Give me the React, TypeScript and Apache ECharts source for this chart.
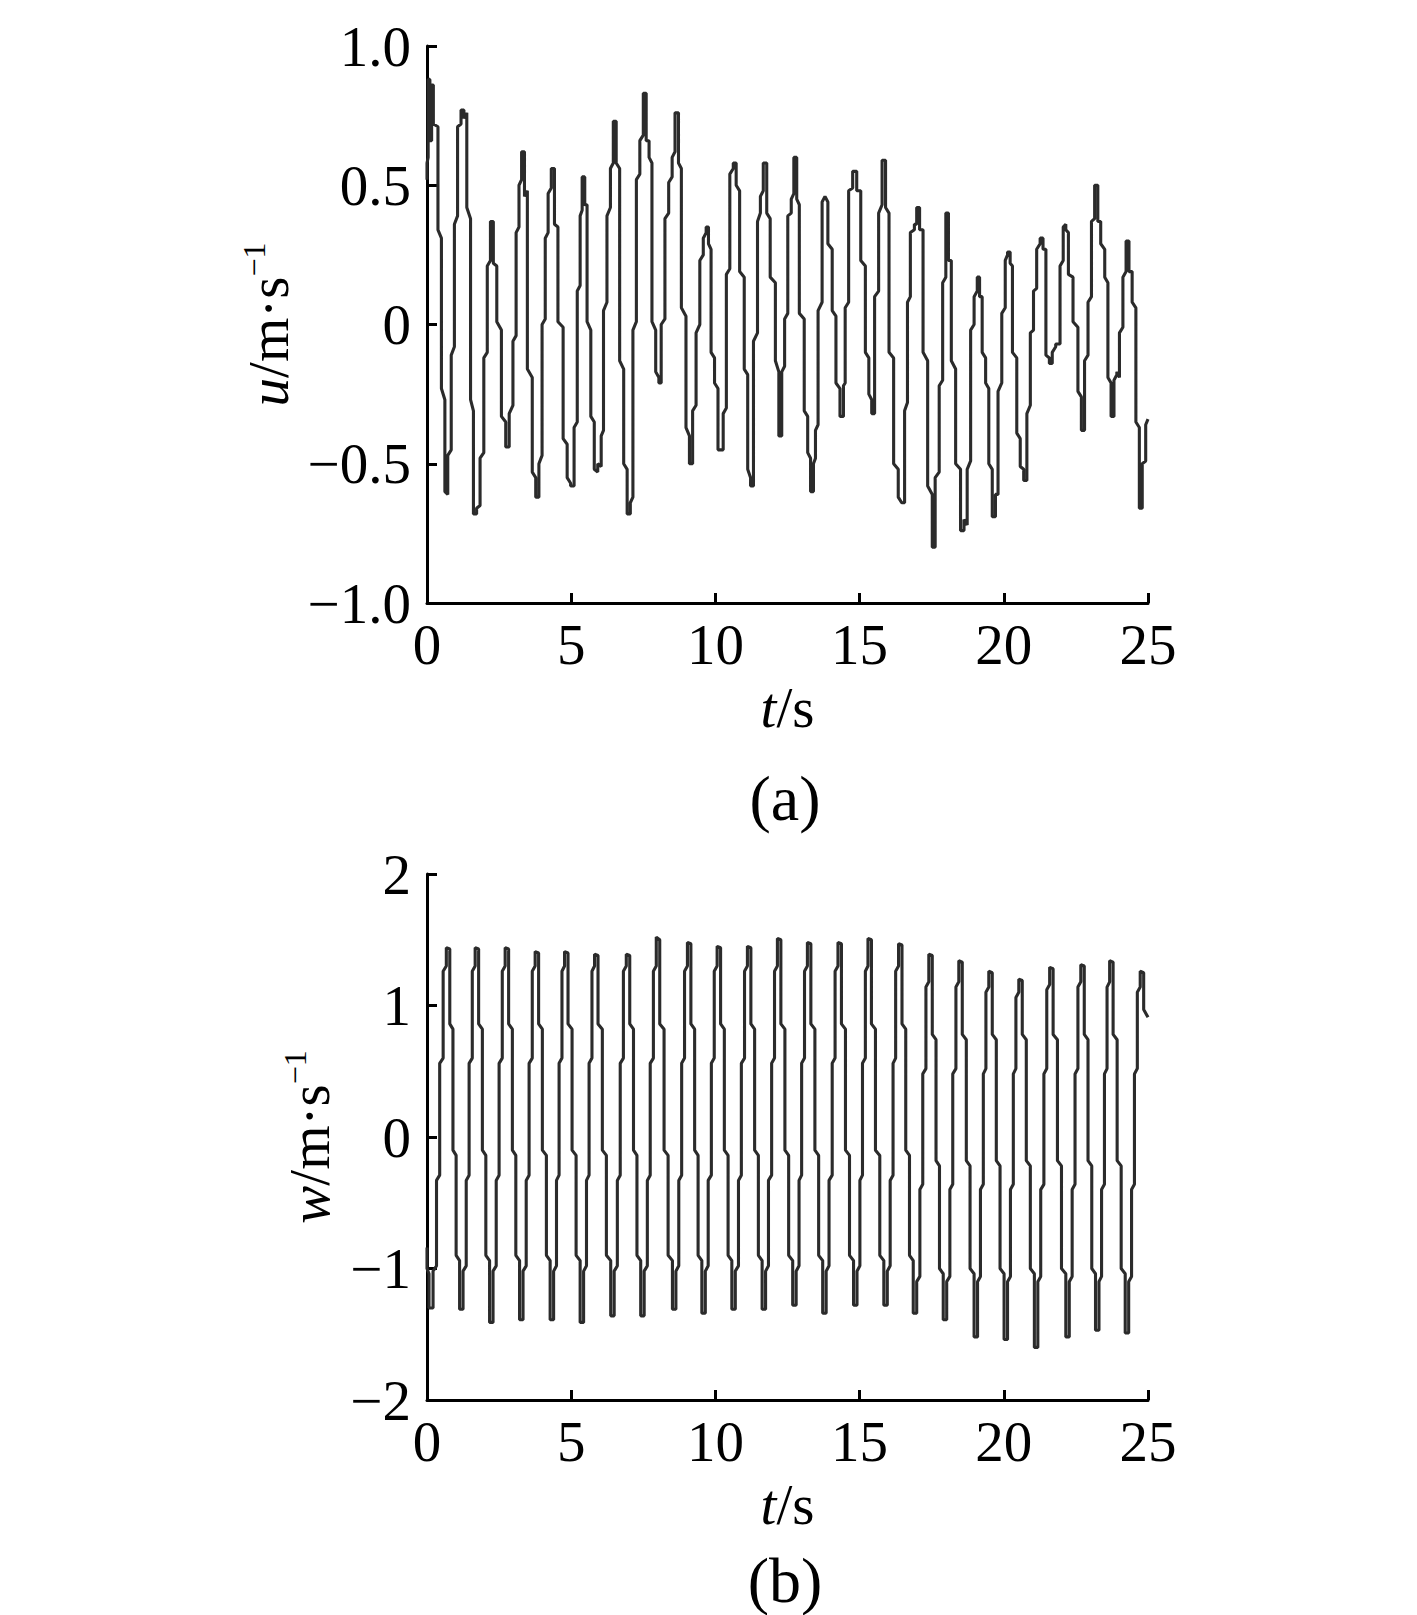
import React, { useEffect, useRef } from "react";
import * as echarts from "echarts";

// ---------- data ----------
const timeMin = 0;
const timeMax = 25;
const timeStep = 5;

const uTickValues = [-1, -0.5, 0, 0.5, 1];
const uTickLabels = ["\u22121.0", "\u22120.5", "0", "0.5", "1.0"];
const wTickValues = [-2, -1, 0, 1, 2];
const wTickLabels = ["\u22122", "\u22121", "0", "1", "2"];

// u(t): the trace is drawn as short vertical runs [t, from, to] joined by small jogs
const uSteps: number[][] = [
  [0.0, 0.52, 0.58], [0.04, 0.6, 0.88], [0.1, 0.88, 0.66], [0.16, 0.66, 0.86], [0.22, 0.86, 0.72],
  [0.38, 0.71, 0.34], [0.5, 0.31, -0.23], [0.62, -0.27, -0.6], [0.72, -0.61, -0.47],
  [0.84, -0.45, -0.11], [0.95, -0.08, 0.36], [1.06, 0.39, 0.71], [1.18, 0.72, 0.77], [1.28, 0.77, 0.74],
  [1.38, 0.76, 0.42], [1.51, 0.38, -0.27], [1.61, -0.31, -0.68], [1.72, -0.68, -0.66], [1.84, -0.65, -0.48],
  [1.97, -0.46, -0.12], [2.09, -0.1, 0.21], [2.2, 0.23, 0.37], [2.3, 0.37, 0.22], [2.42, 0.21, 0.01],
  [2.58, -0.02, -0.33], [2.73, -0.35, -0.44], [2.85, -0.44, -0.32],
  [2.98, -0.29, -0.06], [3.09, -0.04, 0.33], [3.19, 0.35, 0.5], [3.28, 0.52, 0.62], [3.38, 0.62, 0.46],
  [3.48, 0.48, -0.16], [3.65, -0.19, -0.53], [3.77, -0.55, -0.62], [3.88, -0.62, -0.5],
  [3.99, -0.47, 0.0], [4.1, 0.02, 0.31], [4.2, 0.33, 0.47], [4.31, 0.49, 0.56], [4.42, 0.56, 0.36],
  [4.54, 0.35, 0.01], [4.72, -0.01, -0.41], [4.86, -0.43, -0.55], [4.98, -0.57, -0.58], [5.1, -0.58, -0.37],
  [5.21, -0.35, 0.12], [5.31, 0.14, 0.39], [5.38, 0.41, 0.53], [5.47, 0.53, 0.43],
  [5.55, 0.43, 0.01], [5.68, -0.02, -0.33], [5.8, -0.35, -0.52], [5.92, -0.53, -0.5], [6.04, -0.51, -0.4],
  [6.12, -0.38, 0.05], [6.24, 0.08, 0.39], [6.36, 0.42, 0.56], [6.46, 0.58, 0.73], [6.56, 0.73, 0.58],
  [6.68, 0.56, -0.13], [6.82, -0.16, -0.5], [6.94, -0.52, -0.68], [7.05, -0.68, -0.64],
  [7.14, -0.62, -0.02], [7.26, 0.01, 0.52], [7.38, 0.54, 0.66], [7.5, 0.68, 0.83], [7.6, 0.83, 0.66],
  [7.7, 0.66, 0.6], [7.8, 0.58, 0.01], [7.93, -0.02, -0.17], [8.04, -0.19, -0.21],
  [8.12, -0.21, 0.0], [8.25, 0.02, 0.38], [8.38, 0.4, 0.51], [8.5, 0.53, 0.6], [8.6, 0.62, 0.76],
  [8.72, 0.76, 0.58], [8.82, 0.56, 0.06], [8.98, 0.03, -0.37], [9.1, -0.4, -0.5], [9.21, -0.5, -0.31],
  [9.33, -0.29, -0.03], [9.46, 0.0, 0.23], [9.58, 0.25, 0.31], [9.68, 0.33, 0.35], [9.76, 0.35, 0.29],
  [9.85, 0.27, -0.1], [9.97, -0.12, -0.21], [10.09, -0.23, -0.45], [10.2, -0.45, -0.45],
  [10.27, -0.45, -0.32], [10.38, -0.3, 0.18], [10.5, 0.2, 0.54], [10.62, 0.56, 0.58], [10.72, 0.58, 0.5],
  [10.84, 0.48, 0.19], [11.0, 0.17, -0.16], [11.12, -0.18, -0.52], [11.22, -0.55, -0.58],
  [11.32, -0.58, -0.06], [11.46, -0.03, 0.37], [11.56, 0.4, 0.46], [11.66, 0.48, 0.58], [11.78, 0.58, 0.4],
  [11.9, 0.38, 0.17], [12.08, 0.15, -0.13], [12.2, -0.17, -0.4], [12.3, -0.4, -0.17],
  [12.4, -0.15, 0.02], [12.51, 0.04, 0.39], [12.63, 0.4, 0.45], [12.72, 0.47, 0.6], [12.82, 0.6, 0.45],
  [12.91, 0.43, 0.04], [13.08, 0.02, -0.31], [13.2, -0.33, -0.46], [13.3, -0.48, -0.6], [13.4, -0.6, -0.5],
  [13.47, -0.48, -0.38], [13.56, -0.36, 0.05], [13.7, 0.08, 0.44], [13.8, 0.46, 0.46], [13.9, 0.44, 0.29],
  [14.05, 0.27, 0.05], [14.18, 0.03, -0.21], [14.32, -0.23, -0.33], [14.44, -0.33, -0.22],
  [14.5, -0.21, 0.06], [14.62, 0.08, 0.48], [14.76, 0.49, 0.55], [14.9, 0.55, 0.48], [15.04, 0.48, 0.23],
  [15.2, 0.21, -0.1], [15.32, -0.12, -0.25], [15.42, -0.27, -0.32],
  [15.52, -0.32, 0.1], [15.66, 0.12, 0.4], [15.78, 0.43, 0.59], [15.9, 0.59, 0.42], [16.02, 0.4, -0.1],
  [16.18, -0.12, -0.5], [16.34, -0.52, -0.62], [16.46, -0.64, -0.64],
  [16.56, -0.64, -0.31], [16.66, -0.28, 0.08], [16.76, 0.1, 0.33], [16.9, 0.34, 0.36], [16.98, 0.36, 0.42],
  [17.08, 0.42, 0.34], [17.2, 0.34, -0.1], [17.36, -0.13, -0.58], [17.52, -0.61, -0.8], [17.62, -0.8, -0.55],
  [17.76, -0.53, -0.22], [17.88, -0.2, 0.15], [17.99, 0.17, 0.4], [18.08, 0.4, 0.23], [18.18, 0.23, -0.13],
  [18.33, -0.16, -0.5], [18.5, -0.52, -0.74], [18.62, -0.74, -0.7],
  [18.73, -0.72, -0.52], [18.85, -0.49, -0.02], [18.97, 0.0, 0.1], [19.08, 0.12, 0.17], [19.16, 0.17, 0.1],
  [19.25, 0.1, -0.1], [19.37, -0.12, -0.21], [19.48, -0.23, -0.5], [19.6, -0.52, -0.69], [19.71, -0.69, -0.61],
  [19.8, -0.61, -0.24], [19.93, -0.21, 0.04], [20.05, 0.06, 0.23], [20.13, 0.25, 0.26], [20.22, 0.26, 0.22],
  [20.3, 0.21, -0.1], [20.45, -0.12, -0.39], [20.57, -0.41, -0.51], [20.69, -0.52, -0.56],
  [20.8, -0.56, -0.32], [20.92, -0.29, -0.03], [21.03, -0.02, 0.12], [21.14, 0.13, 0.27], [21.26, 0.29, 0.31],
  [21.36, 0.31, 0.27], [21.46, 0.27, -0.11], [21.58, -0.12, -0.14],
  [21.68, -0.14, -0.1], [21.8, -0.08, -0.07], [21.95, -0.07, 0.21], [22.06, 0.23, 0.35], [22.15, 0.36, 0.34],
  [22.24, 0.33, 0.18], [22.4, 0.17, 0.01], [22.57, -0.01, -0.24], [22.69, -0.26, -0.38],
  [22.8, -0.38, -0.13], [22.92, -0.11, 0.08], [23.04, 0.1, 0.37], [23.15, 0.38, 0.5], [23.26, 0.5, 0.37],
  [23.36, 0.37, 0.29], [23.5, 0.27, 0.17], [23.61, 0.15, -0.19], [23.72, -0.21, -0.33], [23.82, -0.33, -0.2],
  [23.92, -0.18, -0.17],
  [24.01, -0.19, -0.03], [24.13, -0.01, 0.17], [24.24, 0.19, 0.3], [24.34, 0.3, 0.19], [24.45, 0.19, 0.08],
  [24.58, 0.06, -0.35], [24.7, -0.37, -0.66], [24.8, -0.66, -0.5], [24.92, -0.49, -0.36], [25.0, -0.34, -0.34],
];

// w(t): same drawing convention
const wSteps: number[][] = [
  [0.0, -0.84, -1.0], [0.07, -1.04, -1.3],
  [0.21, -1.3, -1.02], [0.33, -0.98, -0.33], [0.44, -0.29, 0.56], [0.56, 0.6, 1.26], [0.67, 1.3, 1.44],
  [0.79, 1.43, 0.86], [0.9, 0.82, -0.1], [1.01, -0.14, -0.9], [1.13, -0.94, -1.31],
  [1.25, -1.31, -1.02], [1.36, -0.98, -0.33], [1.46, -0.29, 0.56], [1.57, 0.6, 1.26], [1.67, 1.3, 1.44],
  [1.79, 1.43, 0.86], [1.92, 0.82, -0.1], [2.04, -0.14, -0.9], [2.17, -0.94, -1.41],
  [2.29, -1.41, -1.02], [2.4, -0.98, -0.33], [2.5, -0.29, 0.56], [2.61, 0.6, 1.26], [2.71, 1.3, 1.44],
  [2.83, 1.43, 0.86], [2.96, 0.82, -0.1], [3.08, -0.14, -0.9], [3.21, -0.94, -1.39],
  [3.33, -1.39, -1.02], [3.44, -0.98, -0.33], [3.54, -0.29, 0.56], [3.65, 0.6, 1.26], [3.75, 1.3, 1.41],
  [3.87, 1.4, 0.86], [4.0, 0.82, -0.1], [4.14, -0.14, -0.9], [4.27, -0.94, -1.39],
  [4.39, -1.39, -1.02], [4.49, -0.98, -0.33], [4.58, -0.29, 0.56], [4.68, 0.6, 1.26], [4.77, 1.3, 1.41],
  [4.89, 1.4, 0.86], [5.03, 0.82, -0.1], [5.17, -0.14, -0.9], [5.31, -0.94, -1.41],
  [5.43, -1.41, -1.02], [5.53, -0.98, -0.33], [5.62, -0.29, 0.56], [5.72, 0.6, 1.26], [5.81, 1.3, 1.39],
  [5.93, 1.38, 0.86], [6.08, 0.82, -0.1], [6.22, -0.14, -0.9], [6.37, -0.94, -1.36],
  [6.49, -1.36, -1.02], [6.6, -0.98, -0.33], [6.7, -0.29, 0.56], [6.81, 0.6, 1.26], [6.91, 1.3, 1.39],
  [7.03, 1.38, 0.86], [7.16, 0.82, -0.1], [7.28, -0.14, -0.9], [7.41, -0.94, -1.36],
  [7.53, -1.36, -1.02], [7.64, -0.98, -0.33], [7.74, -0.29, 0.56], [7.85, 0.6, 1.26], [7.95, 1.3, 1.52],
  [8.07, 1.5, 0.86], [8.22, 0.82, -0.1], [8.36, -0.14, -0.9], [8.51, -0.94, -1.31],
  [8.63, -1.31, -1.02], [8.73, -0.98, -0.33], [8.83, -0.29, 0.56], [8.93, 0.6, 1.26], [9.03, 1.3, 1.48],
  [9.15, 1.47, 0.86], [9.28, 0.82, -0.1], [9.4, -0.14, -0.9], [9.53, -0.94, -1.34],
  [9.65, -1.34, -1.02], [9.75, -0.98, -0.33], [9.86, -0.29, 0.56], [9.96, 0.6, 1.26], [10.06, 1.3, 1.45],
  [10.18, 1.44, 0.86], [10.31, 0.82, -0.1], [10.44, -0.14, -0.9], [10.57, -0.94, -1.31],
  [10.69, -1.31, -1.02], [10.8, -0.98, -0.33], [10.9, -0.29, 0.56], [11.01, 0.6, 1.26], [11.11, 1.3, 1.45],
  [11.23, 1.44, 0.86], [11.36, 0.82, -0.1], [11.49, -0.14, -0.9], [11.62, -0.94, -1.31],
  [11.74, -1.31, -1.02], [11.84, -0.98, -0.33], [11.95, -0.29, 0.56], [12.05, 0.6, 1.26], [12.15, 1.3, 1.51],
  [12.27, 1.5, 0.86], [12.41, 0.82, -0.1], [12.54, -0.14, -0.9], [12.68, -0.94, -1.28],
  [12.8, -1.28, -1.02], [12.9, -0.98, -0.33], [12.99, -0.29, 0.56], [13.09, 0.6, 1.26], [13.19, 1.3, 1.48],
  [13.31, 1.47, 0.86], [13.45, 0.82, -0.1], [13.58, -0.14, -0.9], [13.72, -0.94, -1.34],
  [13.84, -1.34, -1.02], [13.94, -0.98, -0.33], [14.05, -0.29, 0.56], [14.15, 0.6, 1.26], [14.25, 1.3, 1.48],
  [14.37, 1.47, 0.86], [14.51, 0.82, -0.1], [14.65, -0.14, -0.9], [14.79, -0.94, -1.28],
  [14.91, -1.28, -1.02], [15.01, -0.98, -0.33], [15.1, -0.29, 0.56], [15.2, 0.6, 1.26], [15.29, 1.3, 1.51],
  [15.41, 1.5, 0.86], [15.55, 0.82, -0.1], [15.7, -0.14, -0.9], [15.84, -0.94, -1.28],
  [15.96, -1.28, -1.02], [16.06, -0.98, -0.33], [16.16, -0.29, 0.56], [16.25, 0.6, 1.26], [16.35, 1.3, 1.47],
  [16.47, 1.46, 0.86], [16.6, 0.82, -0.1], [16.73, -0.14, -0.9], [16.86, -0.94, -1.34],
  [16.98, -1.34, -1.1], [17.09, -1.06, -0.4], [17.19, -0.36, 0.48], [17.3, 0.52, 1.14], [17.4, 1.18, 1.39],
  [17.52, 1.38, 0.78], [17.65, 0.74, -0.18], [17.77, -0.22, -1.0], [17.9, -1.04, -1.39],
  [18.02, -1.39, -1.1], [18.13, -1.06, -0.4], [18.23, -0.36, 0.48], [18.34, 0.52, 1.14], [18.44, 1.18, 1.34],
  [18.56, 1.33, 0.78], [18.7, 0.74, -0.18], [18.83, -0.22, -1.0], [18.97, -1.04, -1.52],
  [19.09, -1.52, -1.1], [19.19, -1.06, -0.4], [19.29, -0.36, 0.48], [19.38, 0.52, 1.1], [19.48, 1.14, 1.26],
  [19.6, 1.25, 0.78], [19.74, 0.74, -0.18], [19.87, -0.22, -1.0], [20.01, -1.04, -1.54],
  [20.13, -1.54, -1.1], [20.23, -1.06, -0.4], [20.33, -0.36, 0.48], [20.42, 0.52, 1.06], [20.52, 1.1, 1.2],
  [20.64, 1.19, 0.78], [20.78, 0.74, -0.18], [20.92, -0.22, -1.0], [21.06, -1.04, -1.6],
  [21.18, -1.6, -1.1], [21.28, -1.06, -0.4], [21.39, -0.36, 0.48], [21.49, 0.52, 1.12], [21.59, 1.16, 1.29],
  [21.71, 1.28, 0.78], [21.86, 0.74, -0.18], [22.0, -0.22, -1.0], [22.15, -1.04, -1.52],
  [22.27, -1.52, -1.1], [22.37, -1.06, -0.4], [22.47, -0.36, 0.48], [22.57, 0.52, 1.14], [22.67, 1.18, 1.31],
  [22.79, 1.3, 0.78], [22.92, 0.74, -0.18], [23.05, -0.22, -1.0], [23.18, -1.04, -1.47],
  [23.3, -1.47, -1.1], [23.39, -1.06, -0.4], [23.49, -0.36, 0.48], [23.58, 0.52, 1.14], [23.67, 1.18, 1.34],
  [23.79, 1.33, 0.78], [23.93, 0.74, -0.18], [24.07, -0.22, -1.0], [24.21, -1.04, -1.49],
  [24.33, -1.49, -1.1], [24.43, -1.06, -0.4], [24.53, -0.36, 0.48], [24.63, 0.52, 1.1], [24.73, 1.14, 1.26],
  [24.85, 1.25, 0.97], [25.0, 0.91, 0.91],
];

const panelCaptions = ["(a)", "(b)"];

// ---------- helpers ----------
const toPoints = (steps: number[][]) =>
  steps.flatMap(([t, a, b]) => [
    [t, a],
    [t, b],
  ]);

const FONT = '"Liberation Serif", "Times New Roman", Times, serif';

function labelFrom(values: number[], labels: string[]) {
  return (v: number) => {
    const i = values.findIndex((x) => Math.abs(x - v) < 1e-9);
    return i >= 0 ? labels[i] : "";
  };
}

export default function App() {
  const ref = useRef<HTMLDivElement>(null);

  useEffect(() => {
    if (!ref.current) return;
    const chart = echarts.init(ref.current, undefined, { renderer: "svg" });

    const FS = 57;
    const axisLine = { show: true, onZero: false, lineStyle: { color: "#000", width: 3 } };
    const axisTick = { show: true, inside: true, length: 10, lineStyle: { color: "#000", width: 3 } };
    const labelStyle = { fontSize: FS, fontFamily: FONT, color: "#000" };
    const nameRich = {
      i: { fontStyle: "italic", fontSize: FS, fontFamily: FONT, color: "#000" },
      r: { fontSize: FS, fontFamily: FONT, color: "#000" },
      sup: { fontSize: 32, fontFamily: FONT, color: "#000", verticalAlign: "top", padding: [0, 0, 28, 0] },
    };

    const grids = [
      { left: 427, top: 46, width: 721, height: 557 },
      { left: 427, top: 874, width: 721, height: 526 },
    ];

    const xAxes = [0, 1].map((g) => ({
      gridIndex: g,
      type: "value",
      min: timeMin,
      max: timeMax,
      interval: timeStep,
      axisLine,
      axisTick,
      splitLine: { show: false },
      axisLabel: { ...labelStyle, margin: 13, showMinLabel: true, showMaxLabel: true },
      name: "{i|t}{r|/s}",
      nameLocation: "middle",
      nameGap: 76,
      nameTextStyle: { ...labelStyle, rich: nameRich },
    }));

    const yAxes = [
      {
        gridIndex: 0,
        type: "value",
        min: uTickValues[0],
        max: uTickValues[uTickValues.length - 1],
        interval: 0.5,
        axisLine,
        axisTick,
        splitLine: { show: false },
        axisLabel: { ...labelStyle, margin: 16, formatter: labelFrom(uTickValues, uTickLabels), showMinLabel: true, showMaxLabel: true },
        name: "{i|u}{r|/m\u00b7s}{sup|\u22121}",
        nameLocation: "middle",
        nameRotate: 90,
        nameGap: 128,
        nameTextStyle: { ...labelStyle, rich: nameRich },
      },
      {
        gridIndex: 1,
        type: "value",
        min: wTickValues[0],
        max: wTickValues[wTickValues.length - 1],
        interval: 1,
        axisLine,
        axisTick,
        splitLine: { show: false },
        axisLabel: { ...labelStyle, margin: 16, formatter: labelFrom(wTickValues, wTickLabels), showMinLabel: true, showMaxLabel: true },
        name: "{i|w}{r|/m\u00b7s}{sup|\u22121}",
        nameLocation: "middle",
        nameRotate: 90,
        nameGap: 88,
        nameTextStyle: { ...labelStyle, rich: nameRich },
      },
    ];

    const lineStyle = { color: "#2b2b2b", width: 3.1 };

    chart.setOption({
      animation: false,
      backgroundColor: "#ffffff",
      grid: grids,
      xAxis: xAxes,
      yAxis: yAxes,
      series: [
        {
          type: "line",
          xAxisIndex: 0,
          yAxisIndex: 0,
          data: toPoints(uSteps),
          showSymbol: false,
          symbol: "none",
          clip: false,
          lineStyle,
          emphasis: { disabled: true },
        },
        {
          type: "line",
          xAxisIndex: 1,
          yAxisIndex: 1,
          data: toPoints(wSteps),
          showSymbol: false,
          symbol: "none",
          clip: false,
          lineStyle,
          emphasis: { disabled: true },
        },
      ],
      graphic: [
        {
          type: "text",
          x: 785,
          y: 798,
          style: { text: panelCaptions[0], font: `64px ${FONT}`, fill: "#000", align: "center", verticalAlign: "middle" },
        },
        {
          type: "text",
          x: 785,
          y: 1580,
          style: { text: panelCaptions[1], font: `64px ${FONT}`, fill: "#000", align: "center", verticalAlign: "middle" },
        },
      ],
    });

    return () => chart.dispose();
  }, []);

  return (
    <div
      ref={ref}
      style={{ position: "absolute", left: 0, top: 0, width: 1417, height: 1615, background: "#fff" }}
    />
  );
}
